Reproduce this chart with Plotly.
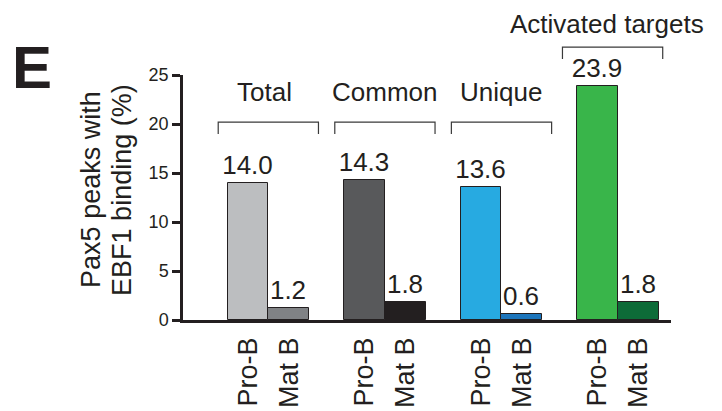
import plotly.graph_objects as go

# Data
groups = ["Total", "Common", "Unique", "Activated targets"]
stages = ["Pro-B", "Mat B"]
pro_b = [14.0, 14.3, 13.6, 23.9]
mat_b = [1.2, 1.8, 0.6, 1.8]
pro_b_colors = ["#bcbec0", "#58595b", "#27aae1", "#39b54a"]
mat_b_colors = ["#808285", "#231f20", "#1c75bc", "#0d6b38"]
y_ticks = [0, 5, 10, 15, 20, 25]

INK = "#231f20"
FONT = "Liberation Sans, Arial, Helvetica, sans-serif"

group_pos = list(range(len(groups)))
half = 0.175
bar_w = 0.35
x_pro = [g - half for g in group_pos]
x_mat = [g + half for g in group_pos]

fig = go.Figure()
for xs, vals, cols in [(x_pro, pro_b, pro_b_colors), (x_mat, mat_b, mat_b_colors)]:
    fig.add_trace(go.Bar(
        x=xs, y=vals, width=bar_w,
        marker=dict(color=cols, line=dict(color=INK, width=1)),
        text=[f"{v:.1f}" for v in vals],
        textposition="outside",
        textfont=dict(family=FONT, size=26, color=INK),
        constraintext="none",
        cliponaxis=False,
        showlegend=False,
        hoverinfo="skip",
    ))

tickvals = []
ticktext = []
for a, b in zip(x_pro, x_mat):
    tickvals += [a, b]
    ticktext += stages

fig.update_layout(
    width=722, height=411,
    margin=dict(l=183, r=51, t=75, b=91),
    paper_bgcolor="white", plot_bgcolor="white",
    font=dict(family=FONT, color=INK),
    bargap=0,
    xaxis=dict(
        range=[-0.732, 3.454],
        tickvals=tickvals, ticktext=ticktext, tickangle=-90,
        tickfont=dict(family=FONT, size=27, color=INK),
        ticks="", ticklabelstandoff=4,
        showline=True, linecolor=INK, linewidth=2.5,
        showgrid=False, zeroline=False, automargin=False, fixedrange=True,
    ),
    yaxis=dict(
        range=[0, 25], tickvals=y_ticks,
        tickfont=dict(family=FONT, size=18, color=INK),
        ticks="outside", ticklen=8, tickwidth=2.5, tickcolor=INK,
        showline=True, linecolor=INK, linewidth=2.5,
        showgrid=False, zeroline=False, automargin=False, fixedrange=True,
    ),
)

# Group brackets and labels above the bars
bracket_half = 0.43
bracket_shift = [0.0, 0.0, 0.0, -0.047]
bracket_top = [0.808, 0.808, 0.808, 1.114]
bracket_leg = 0.049
label_y = [0.931, 0.931, 0.931, 1.208]
label_shift = [-0.03, 0.0, 0.0, -0.095]
for g, name, sh, top, ly, lsh in zip(group_pos, groups, bracket_shift, bracket_top, label_y, label_shift):
    x0 = g + sh - bracket_half
    x1 = g + sh + bracket_half
    fig.add_shape(
        type="path", xref="x", yref="paper",
        path=f"M {x0} {top - bracket_leg} L {x0} {top} L {x1} {top} L {x1} {top - bracket_leg}",
        line=dict(color="#3a3a3a", width=1.2),
    )
    fig.add_annotation(
        x=g + lsh, y=ly, xref="x", yref="paper",
        text=name, showarrow=False, xanchor="center", yanchor="middle",
        font=dict(family=FONT, size=26, color=INK),
    )

# Y-axis title (two lines)
for line, shift in [("Pax5 peaks with", -92), ("EBF1 binding (%)", -61)]:
    fig.add_annotation(
        x=0, y=0.531, xref="paper", yref="paper", xshift=shift,
        text=line, textangle=-90, showarrow=False,
        xanchor="center", yanchor="middle",
        font=dict(family=FONT, size=27, color=INK),
    )

# Panel letter
fig.add_annotation(
    x=0, y=1, xref="paper", yref="paper", xshift=-151, yshift=8,
    text="<b>E</b>", showarrow=False, xanchor="center", yanchor="middle",
    font=dict(family=FONT, size=60, color=INK),
)

fig.write_html("out.html")
